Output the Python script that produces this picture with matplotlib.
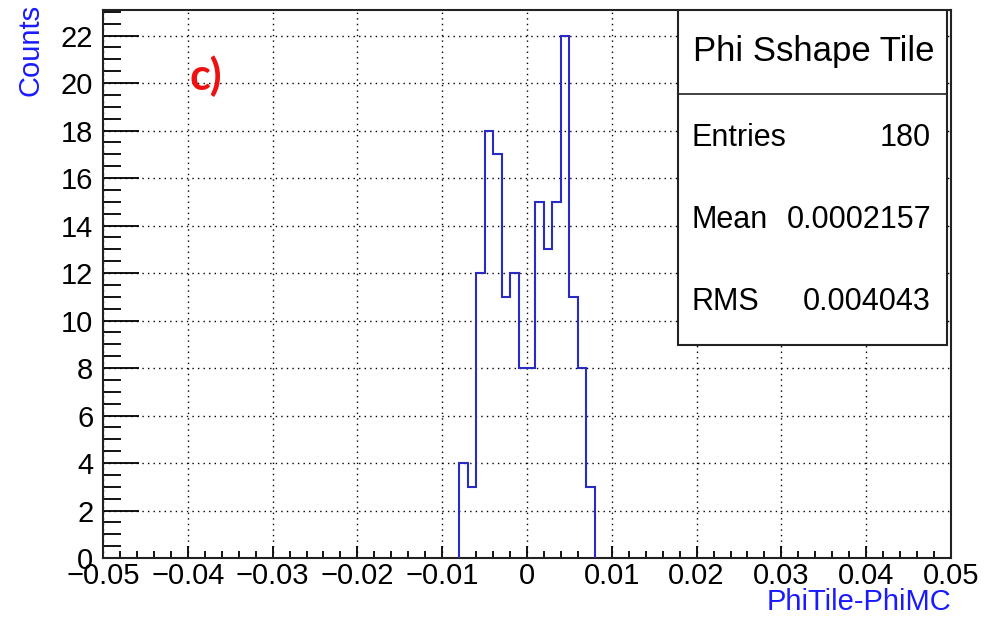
import matplotlib
matplotlib.use("Agg")
from matplotlib import pyplot as plt
from matplotlib.patches import Rectangle
from matplotlib.ticker import MultipleLocator
import numpy as np

# histogram contents (bin width 0.001)
bin_edges = [-0.008, -0.007, -0.006, -0.005, -0.004, -0.003, -0.002, -0.001,
             0.0, 0.001, 0.002, 0.003, 0.004, 0.005, 0.006, 0.007, 0.008]
counts = [4, 3, 12, 18, 17, 11, 12, 8, 8, 15, 13, 15, 22, 11, 8, 3]

title = "Phi Sshape Tile"
stat_names = ["Entries", "Mean", "RMS"]
stat_values = ["180", "0.0002157", "0.004043"]
x_ticks = [-0.05, -0.04, -0.03, -0.02, -0.01, 0.0, 0.01, 0.02, 0.03, 0.04, 0.05]
x_tick_labels = ["\u22120.05", "\u22120.04", "\u22120.03", "\u22120.02", "\u22120.01",
                 "0", "0.01", "0.02", "0.03", "0.04", "0.05"]
y_ticks = [0, 2, 4, 6, 8, 10, 12, 14, 16, 18, 20, 22]

plt.rcParams["font.family"] = ["Liberation Sans", "DejaVu Sans"]

W, H = 984, 618
PX = 72 / 100  # points per pixel
fig = plt.figure(figsize=(W / 100, H / 100), dpi=100)
left, right, top, bottom = 103, 951, 9.5, 558
ax = fig.add_axes([left / W, 1 - bottom / H, (right - left) / W, (bottom - top) / H])

ax.stairs(counts, bin_edges, baseline=0, color="#2a2ac4", linewidth=1.5, zorder=3)

ax.set_xlim(-0.05, 0.05)
ax.set_ylim(0, max(counts) * 1.05)

ax.set_xticks(x_ticks)
ax.set_xticklabels(x_tick_labels)
ax.set_yticks(y_ticks)
ax.xaxis.set_minor_locator(MultipleLocator(0.002))
ax.yaxis.set_minor_locator(MultipleLocator(0.5))

ax.tick_params(axis="both", which="both", direction="in", colors="black",
               labelsize=21, width=1.3)
ax.tick_params(axis="x", which="major", length=12 * PX, pad=3)
ax.tick_params(axis="x", which="minor", length=7 * PX)
ax.tick_params(axis="y", which="major", length=36 * PX, pad=7)
ax.tick_params(axis="y", which="minor", length=18 * PX)

for spine in ax.spines.values():
    spine.set_linewidth(1.5)
    spine.set_color("#222222")

ax.grid(True, which="major", color="black", linestyle=(0, (1, 3)), linewidth=1.0)
ax.set_axisbelow(True)

# stats box
bx0, bx1, by0, by1, bsep = 678, 947, 9.5, 345, 94
to_ax = lambda px, py: ((px - left) / (right - left), (bottom - py) / (bottom - top))
x0, y0 = to_ax(bx0, by1)
x1, y1 = to_ax(bx1, by0)
ax.add_patch(Rectangle((x0, y0), x1 - x0, y1 - y0, transform=ax.transAxes,
                       facecolor="white", edgecolor="#222222", linewidth=1.5, zorder=5))
_, ys = to_ax(bx0, bsep)
ax.plot([x0, x1], [ys, ys], transform=ax.transAxes, color="#222222", lw=1.2, zorder=6)

tx, ty = to_ax((bx0 + bx1) / 2 + 1, 52)
ax.text(tx, ty, title, transform=ax.transAxes, ha="center", va="center",
        fontsize=25, zorder=7)
for i, (name, val) in enumerate(zip(stat_names, stat_values)):
    yrow = 138 + i * 82
    lx, ly = to_ax(692, yrow)
    rx, _ = to_ax(931, yrow)
    ax.text(lx, ly, name, transform=ax.transAxes, ha="left", va="center",
            fontsize=22, zorder=7)
    ax.text(rx, ly, val, transform=ax.transAxes, ha="right", va="center",
            fontsize=22, zorder=7)

# axis titles in ROOT style
fig.text(30 / W, 1 - 4 / H, "Counts", rotation=90, ha="center", va="top",
         color="#1a1aff", fontsize=21)
fig.text(right / W, 1 - 616 / H, "PhiTile-PhiMC", ha="right", va="bottom",
         color="#1a1aff", fontsize=21)

# panel label
fig.text(206 / W, 1 - 76 / H, "c)", ha="center", va="center", color="#ee1111",
         fontsize=31, fontweight="bold", family=["Lato", "DejaVu Sans"])

fig.savefig("out.png", dpi=100)
